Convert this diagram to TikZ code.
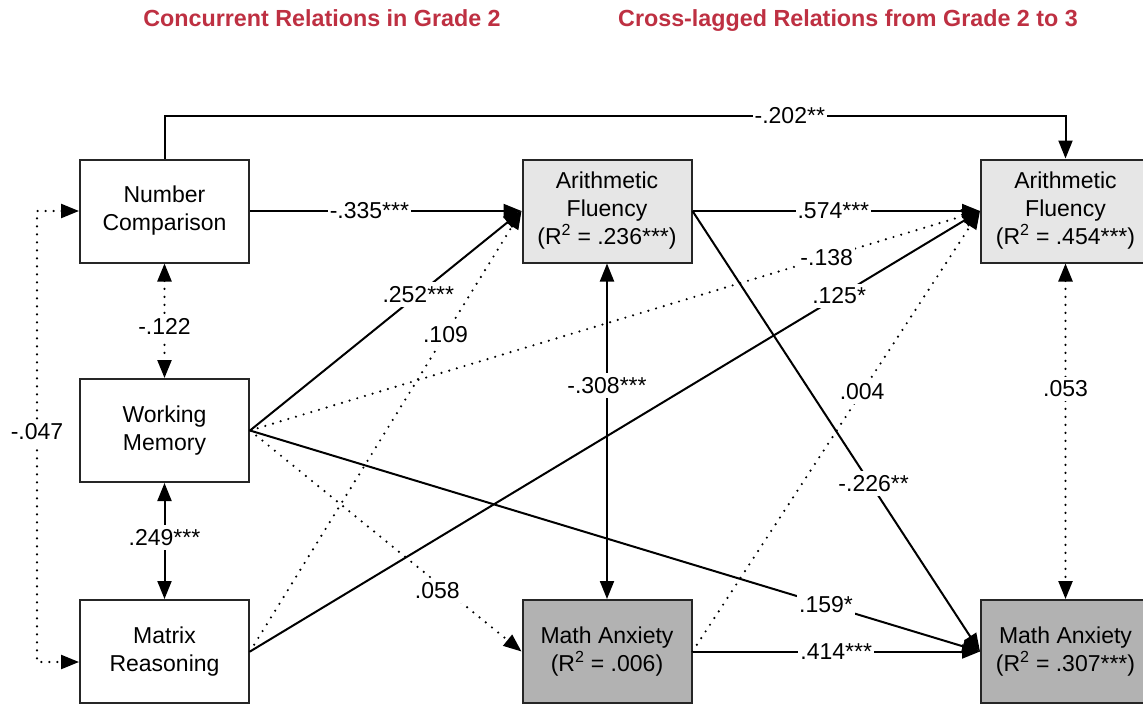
\documentclass[tikz,border=0pt]{standalone}
\usepackage{fontspec}
\setmainfont{Liberation Sans}
\usetikzlibrary{arrows.meta}
\definecolor{titlered}{RGB}{190,48,66}
\definecolor{afgray}{RGB}{230,230,230}
\definecolor{magray}{RGB}{178,178,178}
\begin{document}
\begin{tikzpicture}[x=1pt,y=-1pt,
  box/.style={draw=black!85, line width=2pt, minimum width=169pt, minimum height=103pt, align=center, inner sep=0pt, font=\fontsize{23}{28}\selectfont},
  conn/.style={line width=2pt, draw=black},
  dotline/.style={line width=2.4pt, dash pattern=on 0pt off 8pt, line cap=round},
  tip/.style={-{Triangle[length=18pt,width=14pt]}},
  both/.style={{Triangle[length=18pt,width=14pt]}-{Triangle[length=18pt,width=14pt]}},
  lbl/.style={fill=white, inner xsep=2pt, inner ysep=4pt, font=\fontsize{23}{28}\selectfont},
  ttl/.style={font=\fontsize{23.3}{28}\selectfont\bfseries, text=titlered, anchor=base}
]
\fill[white] (0,0) rectangle (1143,704);
\useasboundingbox (0,0) rectangle (1143,704);

\node[ttl] (t1) at (322,26) {Concurrent Relations in Grade 2};
\node[ttl] (t2) at (848,26) {Cross-lagged Relations from Grade 2 to 3};

\node[box] (NC) at (164.5,211) {Number\\Comparison};
\node[box] (WM) at (164.5,430.5) {Working\\Memory};
\node[box] (MR) at (164.5,651.5) {Matrix\\Reasoning};
\node[box, fill=afgray] (AF1) at (607,211) {Arithmetic\\Fluency\\(R\textsuperscript{2} = .236***)};
\node[box, fill=magray] (MA1) at (607,651.5) {Math Anxiety\\(R\textsuperscript{2} = .006)};
\node[box, fill=afgray] (AF2) at (1065.5,211) {Arithmetic\\Fluency\\(R\textsuperscript{2} = .454***)};
\node[box, fill=magray] (MA2) at (1065.5,651.5) {Math Anxiety\\(R\textsuperscript{2} = .307***)};

\coordinate (tl) at (164.5,116);
\coordinate (tr) at (1065.5,116);
\draw[conn,tip] (NC.north) -- (tl) -- coordinate[pos=0.694](l202) (tr) -- (AF2.north);

\draw[conn,tip] (NC.east) -- coordinate[pos=0.44](l335) (AF1.west);
\draw[conn,tip] (WM.east) -- coordinate[pos=0.62](l252) (AF1.west);
\draw[dotline,tip] (MR.east) -- coordinate[pos=0.72](l109) (AF1.west);
\draw[dotline,tip] (WM.east) -- coordinate[pos=0.79](l138) (AF2.west);
\draw[conn,tip] (MR.east) -- coordinate[pos=0.807](l125) (AF2.west);
\draw[dotline,tip] (WM.east) -- coordinate[pos=0.69](l058) (MA1.west);
\draw[conn,tip] (WM.east) -- coordinate[pos=0.789](l159) (MA2.west);
\draw[conn,tip] (AF1.east) -- coordinate[pos=0.49](l574) (AF2.west);
\draw[conn,tip] (AF1.east) -- coordinate[pos=0.63](l226) (MA2.west);
\draw[dotline,tip] (MA1.east) -- coordinate[pos=0.59](l004) (AF2.west);
\draw[conn,tip] (MA1.east) -- coordinate[pos=0.5](l414) (MA2.west);
\draw[conn,both] (AF1.south) -- coordinate[pos=0.364](l308) (MA1.north);
\draw[dotline,both] (AF2.south) -- coordinate[pos=0.373](l053) (MA2.north);
\draw[dotline,both] (NC.south) -- coordinate[pos=0.55](l122) (WM.north);
\draw[conn,both] (WM.south) -- coordinate[pos=0.47](l249) (MR.north);
\coordinate (ll1) at (37,211);
\coordinate (ll2) at (37,662);
\draw[dotline,both] (NC.west) -- (ll1) -- coordinate[pos=0.49](l047) (ll2) -- (MR.west |- ll2);

\node[lbl] at (l202) {-.202**};
\node[lbl] at (l335) {-.335***};
\node[lbl] at (l252) {.252***};
\node[lbl] at (l109) {.109};
\node[lbl] at (l138) {-.138};
\node[lbl] at (l125) {.125*};
\node[lbl, yshift=-8pt] at (l058) {.058};
\node[lbl] at (l159) {.159*};
\node[lbl] at (l574) {.574***};
\node[lbl, yshift=5pt] at (l226) {-.226**};
\node[lbl] at (l004) {.004};
\node[lbl] at (l414) {.414***};
\node[lbl] at (l308) {-.308***};
\node[lbl] at (l053) {.053};
\node[lbl] at (l122) {-.122};
\node[lbl] at (l249) {.249***};
\node[lbl] at (l047) {-.047};
\end{tikzpicture}
\end{document}
